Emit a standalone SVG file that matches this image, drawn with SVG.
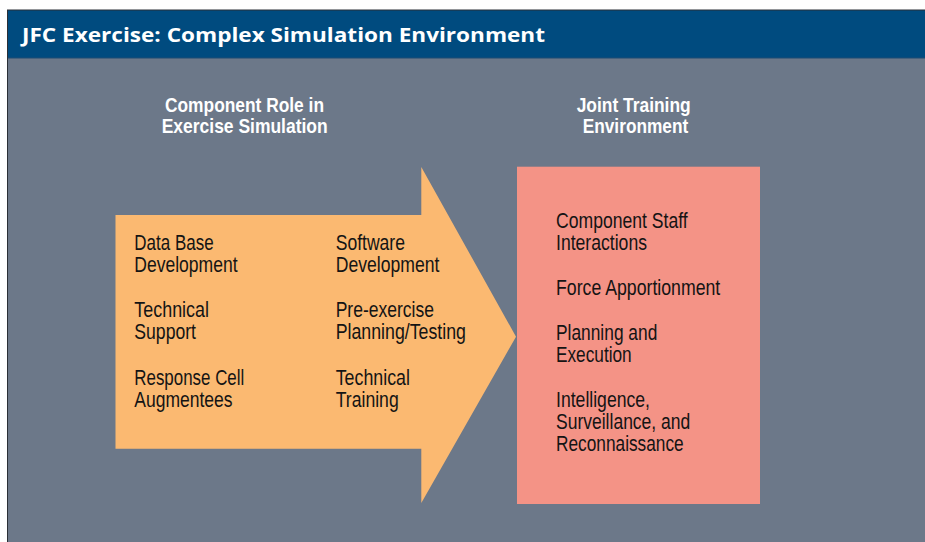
<svg xmlns="http://www.w3.org/2000/svg" width="925" height="542" viewBox="0 0 925 542">
  <style>
    .body { font-family: "Liberation Sans Narrow", "Liberation Sans", Arial, sans-serif; font-size: 21.3px; fill: #141414; }
    .head { font-family: "Liberation Sans Narrow", "Liberation Sans", Arial, sans-serif; font-size: 21px; font-weight: bold; fill: #ffffff; }
    .title { font-family: "Open Sans", "Liberation Sans", Arial, sans-serif; font-size: 19px; font-weight: 700; fill: #ffffff; }
  </style>
  <rect x="0" y="0" width="925" height="542" fill="#ffffff"/>
  <!-- frame -->
  <rect x="7" y="9.5" width="918" height="532.5" fill="#2b2f36"/>
  <rect x="8" y="58" width="917" height="484" fill="#6c7889"/>
  <rect x="8" y="10.5" width="917" height="47.5" fill="#004b7f"/>
  <rect x="8" y="57.5" width="917" height="1" fill="#1f4d74"/>
  <g id="title">
    <text class="title" x="22" y="41.7" textLength="523" lengthAdjust="spacingAndGlyphs">JFC Exercise: Complex Simulation Environment</text>
  </g>
  <g id="heading-left">
    <text class="head" x="165" y="111.7" textLength="159" lengthAdjust="spacingAndGlyphs">Component Role in</text>
    <text class="head" x="161.7" y="133.3" textLength="166" lengthAdjust="spacingAndGlyphs">Exercise Simulation</text>
  </g>
  <g id="heading-right">
    <text class="head" x="576.7" y="111.7" textLength="114" lengthAdjust="spacingAndGlyphs">Joint Training</text>
    <text class="head" x="582.7" y="133.3" textLength="105.6" lengthAdjust="spacingAndGlyphs">Environment</text>
  </g>
  <g id="component-roles">
    <polygon points="115.5,215 421.3,215 421.3,167 516,336.7 421.3,503 421.3,448.7 115.5,448.7" fill="#fbb971"/>
    <text class="body" x="134.3" y="250" textLength="79.3" lengthAdjust="spacingAndGlyphs">Data Base</text>
    <text class="body" x="134.3" y="272" textLength="103.3" lengthAdjust="spacingAndGlyphs">Development</text>
    <text class="body" x="134.3" y="317" textLength="74.7" lengthAdjust="spacingAndGlyphs">Technical</text>
    <text class="body" x="134.3" y="339" textLength="61.7" lengthAdjust="spacingAndGlyphs">Support</text>
    <text class="body" x="134.3" y="385" textLength="110" lengthAdjust="spacingAndGlyphs">Response Cell</text>
    <text class="body" x="134.3" y="407" textLength="98.3" lengthAdjust="spacingAndGlyphs">Augmentees</text>
    <text class="body" x="335.7" y="250" textLength="69.3" lengthAdjust="spacingAndGlyphs">Software</text>
    <text class="body" x="335.7" y="272" textLength="103.7" lengthAdjust="spacingAndGlyphs">Development</text>
    <text class="body" x="335.7" y="317" textLength="98.3" lengthAdjust="spacingAndGlyphs">Pre-exercise</text>
    <text class="body" x="335.7" y="339" textLength="130.3" lengthAdjust="spacingAndGlyphs">Planning/Testing</text>
    <text class="body" x="335.7" y="385" textLength="74.3" lengthAdjust="spacingAndGlyphs">Technical</text>
    <text class="body" x="335.7" y="407" textLength="63" lengthAdjust="spacingAndGlyphs">Training</text>
  </g>
  <g id="joint-training">
    <rect x="517" y="166.7" width="243" height="337.3" fill="#f49386"/>
    <text class="body" x="556" y="227.7" textLength="131.7" lengthAdjust="spacingAndGlyphs">Component Staff</text>
    <text class="body" x="556" y="249.5" textLength="91" lengthAdjust="spacingAndGlyphs">Interactions</text>
    <text class="body" x="556" y="294.5" textLength="164.3" lengthAdjust="spacingAndGlyphs">Force Apportionment</text>
    <text class="body" x="556" y="340" textLength="101.3" lengthAdjust="spacingAndGlyphs">Planning and</text>
    <text class="body" x="556" y="362" textLength="75.7" lengthAdjust="spacingAndGlyphs">Execution</text>
    <text class="body" x="556" y="407" textLength="94" lengthAdjust="spacingAndGlyphs">Intelligence,</text>
    <text class="body" x="556" y="429" textLength="134.3" lengthAdjust="spacingAndGlyphs">Surveillance, and</text>
    <text class="body" x="556" y="451" textLength="127.7" lengthAdjust="spacingAndGlyphs">Reconnaissance</text>
  </g>
</svg>
